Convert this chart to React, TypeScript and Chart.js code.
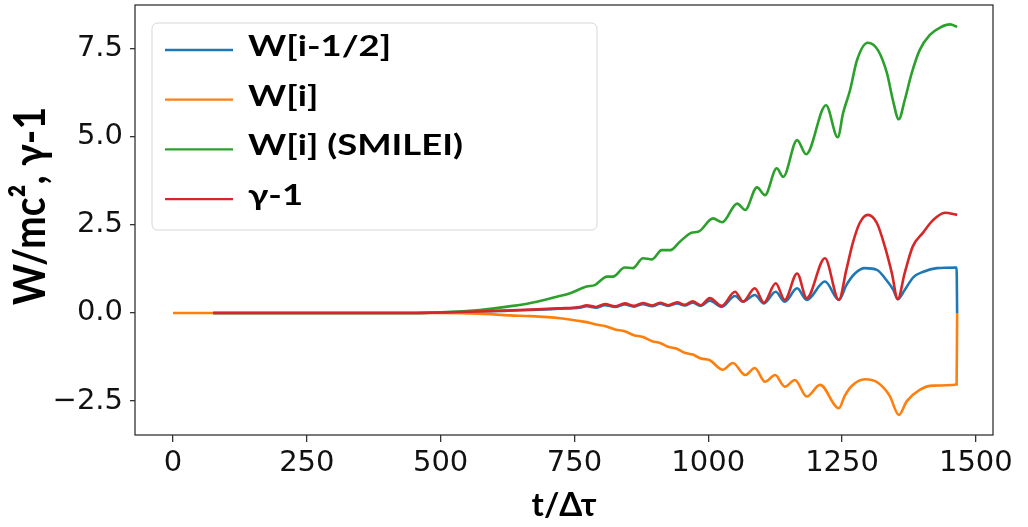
import React, { useEffect, useRef } from "react";
import { Chart, registerables } from "chart.js";

Chart.register(...registerables);

// ---- data ----
const xTicks = [0, 250, 500, 750, 1000, 1250, 1500];
const yTicks = [-2.5, 0, 2.5, 5, 7.5];
const seriesLabels = ["W[i-1/2]", "W[i]", "W[i] (SMILEI)", "γ-1"];
const seriesColors = ["#1f77b4", "#ff7f0e", "#2ca02c", "#d62728"];

const tHalf = [75, 450, 520, 570, 620, 680, 720, 760, 773, 790, 807, 826, 844, 861, 878, 895, 910, 925, 942, 956, 971, 986, 1003, 1025, 1050, 1065, 1087, 1104, 1126, 1143, 1166, 1184, 1218, 1244, 1258, 1274, 1293, 1315, 1333, 1346, 1354, 1367, 1383, 1402, 1427, 1464, 1465];
const wHalf = [0, 0, 0.02, 0.04, 0.06, 0.09, 0.12, 0.15, 0.19, 0.15, 0.22, 0.17, 0.24, 0.18, 0.25, 0.19, 0.26, 0.2, 0.27, 0.21, 0.29, 0.2, 0.35, 0.17, 0.48, 0.32, 0.51, 0.27, 0.6, 0.32, 0.7, 0.37, 0.89, 0.37, 0.79, 1.12, 1.27, 1.22, 0.93, 0.65, 0.39, 0.65, 1.01, 1.17, 1.27, 1.29, 0];

const tW = [0, 75, 500, 573, 630, 667, 723, 760, 773, 790, 807, 826, 844, 861, 878, 895, 910, 925, 942, 956, 971, 986, 1003, 1027, 1046, 1069, 1087, 1106, 1125, 1143, 1162, 1184, 1209, 1244, 1255, 1268, 1293, 1317, 1339, 1356, 1371, 1395, 1420, 1464, 1465];
const wI = [0, 0, 0, -0.02, -0.07, -0.09, -0.15, -0.23, -0.26, -0.33, -0.37, -0.47, -0.52, -0.63, -0.68, -0.8, -0.85, -0.96, -1.02, -1.13, -1.18, -1.29, -1.34, -1.61, -1.42, -1.76, -1.56, -1.95, -1.76, -2.09, -1.9, -2.37, -2.04, -2.7, -2.35, -2.07, -1.88, -1.98, -2.35, -2.89, -2.5, -2.18, -2.06, -2.03, 0];

const tSmilei = [75, 450, 520, 573, 635, 680, 717, 742, 773, 788, 811, 822, 844, 859, 878, 895, 913, 929, 947, 970, 981, 1009, 1026, 1054, 1069, 1091, 1106, 1128, 1140, 1166, 1183, 1220, 1242, 1252, 1265, 1278, 1298, 1317, 1334, 1345, 1356, 1367, 1380, 1395, 1414, 1433, 1452, 1465];
const wSmilei = [0, 0, 0.03, 0.085, 0.2, 0.32, 0.46, 0.56, 0.75, 0.79, 1.03, 1.03, 1.29, 1.27, 1.55, 1.52, 1.78, 1.78, 2.02, 2.28, 2.3, 2.68, 2.57, 3.1, 2.92, 3.56, 3.34, 4.1, 3.86, 4.9, 4.5, 5.89, 4.98, 5.67, 6.32, 7.17, 7.66, 7.45, 6.79, 6.03, 5.49, 6.03, 6.79, 7.45, 7.88, 8.09, 8.18, 8.11];

const tGamma = [75, 450, 520, 570, 620, 680, 720, 760, 773, 790, 807, 826, 844, 861, 878, 895, 910, 925, 942, 956, 971, 986, 1003, 1025, 1050, 1065, 1087, 1104, 1126, 1143, 1166, 1184, 1218, 1244, 1258, 1270, 1283, 1298, 1315, 1330, 1343, 1354, 1367, 1382, 1401, 1420, 1442, 1465];
const gammaM1 = [0, 0, 0.02, 0.04, 0.07, 0.1, 0.13, 0.17, 0.22, 0.17, 0.25, 0.19, 0.27, 0.2, 0.28, 0.21, 0.29, 0.22, 0.3, 0.23, 0.33, 0.22, 0.42, 0.2, 0.6, 0.32, 0.7, 0.29, 0.84, 0.37, 1.12, 0.42, 1.55, 0.37, 1.22, 1.98, 2.55, 2.78, 2.55, 1.88, 1.13, 0.39, 1.13, 1.88, 2.27, 2.63, 2.84, 2.78];

const yTitle = "W/mc², γ-1";
const xTitle = "t/Δτ";

const pts = (t: number[], v: number[]) => t.map((x, i) => ({ x, y: v[i] }));

const noScalePadding = (scale: any) => {
  scale.paddingTop = 0;
  scale.paddingBottom = 0;
  scale.paddingLeft = 0;
  scale.paddingRight = 0;
};

const frameLegendPlugin = {
  id: "frameLegend",
  afterDatasetsDraw(chart: any) {
    const { ctx, chartArea } = chart;
    const { left, top, right, bottom } = chartArea;
    ctx.save();
    // axes frame (all four spines)
    ctx.strokeStyle = "#333";
    ctx.lineWidth = 1.3;
    ctx.strokeRect(left, top, right - left, bottom - top);

    // y axis title (text taken from the scale options)
    const yt = chart.options.scales.y.title;
    ctx.save();
    ctx.font = "bold 44px Lato";
    const tw = ctx.measureText(yt.text).width;
    ctx.translate(45, 206);
    ctx.rotate(-Math.PI / 2);
    ctx.scale(198 / tw, 1);
    ctx.fillStyle = "#000";
    ctx.textAlign = "center";
    ctx.textBaseline = "alphabetic";
    ctx.fillText(yt.text, 0, 0);
    ctx.restore();

    // legend box
    const bx = left + 17;
    const by = top + 18;
    const bw = 445;
    const bh = 207;
    const r = 6;
    ctx.beginPath();
    ctx.moveTo(bx + r, by);
    ctx.lineTo(bx + bw - r, by);
    ctx.quadraticCurveTo(bx + bw, by, bx + bw, by + r);
    ctx.lineTo(bx + bw, by + bh - r);
    ctx.quadraticCurveTo(bx + bw, by + bh, bx + bw - r, by + bh);
    ctx.lineTo(bx + r, by + bh);
    ctx.quadraticCurveTo(bx, by + bh, bx, by + bh - r);
    ctx.lineTo(bx, by + r);
    ctx.quadraticCurveTo(bx, by, bx + r, by);
    ctx.closePath();
    ctx.fillStyle = "rgba(255,255,255,0.8)";
    ctx.fill();
    ctx.strokeStyle = "#d6d6d6";
    ctx.lineWidth = 1;
    ctx.stroke();

    ctx.font = "bold 28px Lato";
    const widest = ctx.measureText(seriesLabels[2]).width;
    const sx = 215 / widest;
    chart.data.datasets.forEach((ds: any, i: number) => {
      const y = by + 27 + i * 49.7;
      ctx.beginPath();
      ctx.strokeStyle = ds.borderColor;
      ctx.lineWidth = 2.3;
      ctx.moveTo(bx + 13, y);
      ctx.lineTo(bx + 81, y);
      ctx.stroke();
      ctx.save();
      ctx.translate(bx + 96, y + 6);
      ctx.scale(sx, 1);
      ctx.fillStyle = "#000";
      ctx.font = "bold 28px Lato";
      ctx.textBaseline = "alphabetic";
      ctx.textAlign = "left";
      ctx.fillText(ds.label, 0, 0);
      ctx.restore();
    });
    ctx.restore();
  },
};

export default function App() {
  const ref = useRef<HTMLCanvasElement>(null);

  useEffect(() => {
    if (!ref.current) return;
    const series = [
      pts(tHalf, wHalf),
      pts(tW, wI),
      pts(tSmilei, wSmilei),
      pts(tGamma, gammaM1),
    ];
    const orders = [3, 2, 1, 0];
    const chart = new Chart(ref.current, {
      type: "line",
      data: {
        datasets: series.map((d, i) => ({
          label: seriesLabels[i],
          data: d,
          borderColor: seriesColors[i],
          backgroundColor: seriesColors[i],
          borderWidth: 2.6,
          pointRadius: 0,
          fill: false,
          cubicInterpolationMode: "monotone" as const,
          order: orders[i],
        })),
      },
      options: {
        animation: false,
        responsive: false,
        devicePixelRatio: 1,
        layout: { padding: { top: 5, right: 35, left: 0, bottom: 0 } },
        plugins: {
          legend: { display: false },
          tooltip: { enabled: false },
        },
        scales: {
          x: {
            type: "linear",
            min: -71,
            max: 1532,
            afterBuildTicks: (axis: any) => {
              axis.ticks = xTicks.map((v) => ({ value: v }));
            },
            afterFit: (scale: any) => {
              scale.height = 92;
              noScalePadding(scale);
            },
            ticks: {
              font: { family: "DejaVu Sans", size: 29 },
              color: "#111",
              padding: 4,
              maxRotation: 0,
              callback: (v: any) => String(v),
            },
            grid: {
              drawOnChartArea: false,
              drawTicks: true,
              tickLength: 7,
              color: "#333",
              tickColor: "#333",
              lineWidth: 1.3,
            },
            border: { display: false },
            title: {
              display: true,
              text: xTitle,
              font: { family: "Lato", weight: "bold", size: 33 },
              color: "#000",
              padding: { top: 0, bottom: 2 },
            },
          },
          y: {
            type: "linear",
            min: -3.46,
            max: 8.73,
            afterBuildTicks: (axis: any) => {
              axis.ticks = yTicks.map((v) => ({ value: v }));
            },
            afterFit: (scale: any) => {
              scale.width = 135;
              noScalePadding(scale);
            },
            ticks: {
              font: { family: "DejaVu Sans", size: 29 },
              color: "#111",
              padding: 7,
              callback: (v: any) =>
                v < 0 ? "\u2212" + Math.abs(v).toFixed(1) : Number(v).toFixed(1),
            },
            grid: {
              drawOnChartArea: false,
              drawTicks: true,
              tickLength: 5,
              color: "#333",
              tickColor: "#333",
              lineWidth: 1.3,
            },
            border: { display: false },
            title: {
              display: false,
              text: yTitle,
            },
          },
        },
      },
      plugins: [frameLegendPlugin],
    });
    return () => chart.destroy();
  }, []);

  return (
    <div style={{ position: "absolute", left: 0, top: 0, width: 1028, height: 527 }}>
      <canvas ref={ref} width={1028} height={527} />
    </div>
  );
}
